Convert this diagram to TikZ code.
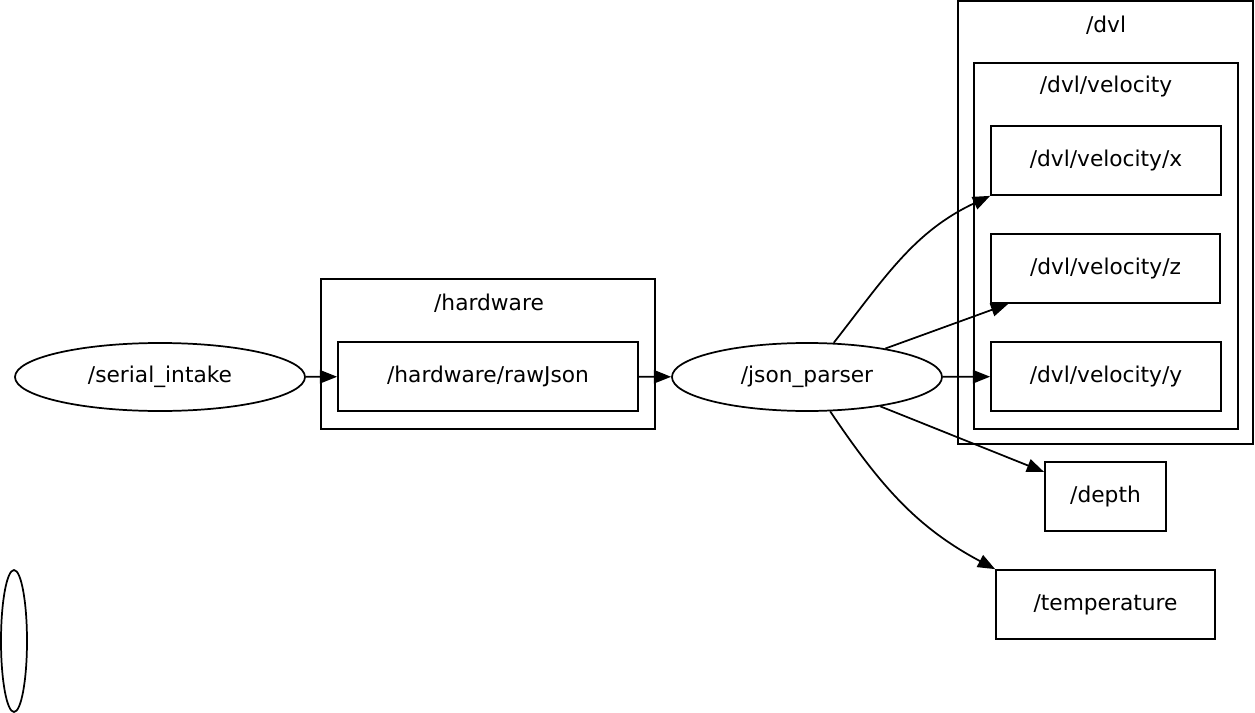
\documentclass[tikz,border=0pt]{standalone}
\usepackage{fontspec}
\setmainfont{DejaVu Sans}
\usetikzlibrary{shapes.geometric,arrows.meta}
\begin{document}
\begin{tikzpicture}[x=0.75pt,y=-0.75pt,
    every node/.style={font=\fontsize{16.3}{19}\selectfont},
    topic/.style={draw,line width=1.3pt,rectangle,inner sep=0pt,minimum height=51.75pt},
    nodebox/.style={draw,line width=1.3pt,ellipse,inner sep=0pt,minimum height=51pt},
    edge/.style={line width=1.3pt,-{Triangle[length=13pt,width=10pt]}}]
  \useasboundingbox (0,0) rectangle (1255,713);
  % clusters
  \draw[line width=1.3pt] (958,1) rectangle (1253,444);
  \draw[line width=1.3pt] (974,63) rectangle (1238,429);
  \draw[line width=1.3pt] (321,279) rectangle (655,429);
  \node (dvl) at (1106,25) {/dvl};
  \node (dvlvel) at (1106,87) {/dvl/velocity};
  \node (hw) at (489,303) {/hardware};
  % nodes and topics
  \node[nodebox,minimum width=217.5pt] (serial) at (160,377) {/serial\_intake};
  \node[topic,minimum width=225pt] (raw) at (488,376.5) {/hardware/rawJson};
  \node[nodebox,minimum width=202.5pt] (json) at (807,377) {/json\_parser};
  \node[topic,minimum width=172.5pt] (vx) at (1106,160.5) {/dvl/velocity/x};
  \node[topic,minimum width=171.75pt] (vz) at (1105.5,268.5) {/dvl/velocity/z};
  \node[topic,minimum width=172.5pt] (vy) at (1106,376.5) {/dvl/velocity/y};
  \node[topic,minimum width=90.75pt] (depth) at (1105.5,496.5) {/depth};
  \node[topic,minimum width=164.25pt] (temp) at (1105.5,604.5) {/temperature};
  \node[nodebox,minimum width=19.5pt,minimum height=106.5pt] (blank) at (14,641) {};
  % edges
  \draw[edge] (serial) -- (raw);
  \draw[edge] (raw) -- (json);
  \draw[edge] (json) to[out=52,in=205] (vx.south west);
  \draw[edge] (json) -- (vz);
  \draw[edge] (json) -- (vy);
  \draw[edge] (json) -- (depth);
  \draw[edge] (json) to[out=-56,in=152] (temp.north west);
\end{tikzpicture}
\end{document}
